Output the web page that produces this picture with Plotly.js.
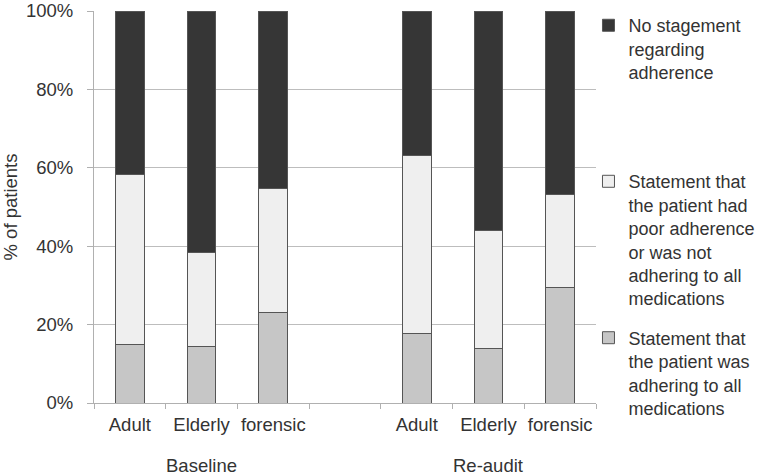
<!DOCTYPE html>
<html>
<head>
<meta charset="utf-8">
<script src="https://cdn.plot.ly/plotly-3.0.1.min.js"></script>
<style>html,body{margin:0;padding:0;background:#fff}#chart{width:760px;height:476px}</style>
</head>
<body>
<div id="chart"></div>
<script>
// Category slots (an empty slot separates the two audit groups)
const slotIds = ["b_adult", "b_elderly", "b_forensic", "gap", "r_adult", "r_elderly", "r_forensic"];
const slotLabels = ["Adult", "Elderly", "forensic", "", "Adult", "Elderly", "forensic"];
const groupLabels = ["Baseline", "Re-audit"];
const groupCenters = [1, 5];

// Percent of patients per slot (null for the empty slot)
const adhering = [15.0, 14.4, 23.2, null, 17.7, 14.0, 29.4];
const poorAdherence = [43.4, 24.1, 31.4, null, 45.4, 30.1, 23.7];
const noStatement = [41.6, 61.5, 45.4, null, 36.9, 55.9, 46.9];

const seriesNames = [
  "Statement that<br>the patient was<br>adhering to all<br>medications",
  "Statement that<br>the patient had<br>poor adherence<br>or was not<br>adhering to all<br>medications",
  "No stagement<br>regarding<br>adherence"
];
const seriesColors = ["#c6c6c6", "#efefef", "#363636"];

const font = {family: "'Liberation Sans', Arial, sans-serif", size: 18.5, color: "#333333"};
const legendFont = {family: "'Liberation Sans', Arial, sans-serif", size: 18, color: "#333333"};
const lineCol = "#555555";

const series = [adhering, poorAdherence, noStatement];
const legendIds = ["legend3", "legend2", "legend"];
const traces = series.map((vals, i) => ({
  type: "bar",
  name: seriesNames[i],
  x: slotIds,
  y: vals.map(v => v === null ? null : v / 100),
  marker: {color: seriesColors[i], line: {color: lineCol, width: 1}},
  legend: legendIds[i],
  hoverinfo: "skip"
}));

const legendBase = {
  x: 0.985, xanchor: "left", yanchor: "top",
  font: legendFont, bgcolor: "rgba(0,0,0,0)", valign: "top"
};

const layout = {
  width: 760, height: 476,
  margin: {l: 94, r: 164, t: 11, b: 73, autoexpand: false},
  paper_bgcolor: "#ffffff", plot_bgcolor: "#ffffff",
  font: font,
  barmode: "stack",
  bargap: 0.6,
  showlegend: true,
  legend: Object.assign({}, legendBase, {y: 1.01}),
  legend2: Object.assign({}, legendBase, {y: 0.612}),
  legend3: Object.assign({}, legendBase, {y: 0.213}),
  xaxis: {
    type: "category",
    categoryorder: "array", categoryarray: slotIds,
    tickvals: slotIds, ticktext: slotLabels,
    range: [-0.5, 6.5],
    tickson: "boundaries",
    ticks: "outside", ticklen: 5, tickcolor: "#b0b0b0",
    tickangle: 0,
    ticklabelstandoff: 5,
    automargin: false,
    showline: true, linecolor: "#b0b0b0", linewidth: 1,
    showgrid: false, zeroline: false,
    tickfont: font, fixedrange: true
  },
  yaxis: {
    range: [0, 1], dtick: 0.2, tick0: 0, tickformat: ".0%",
    ticks: "outside", ticklen: 6, tickcolor: "#b0b0b0",
    ticklabelstandoff: 10,
    automargin: false,
    showline: true, linecolor: "#b0b0b0", linewidth: 1,
    showgrid: true, gridcolor: "#bdbdbd", gridwidth: 1,
    zeroline: false,
    tickfont: font,
    title: {text: "% of patients", font: font, standoff: 8},
    fixedrange: true
  },
  annotations: groupLabels.map((g, i) => ({
    text: g, x: groupCenters[i], xref: "x",
    y: -0.16, yref: "paper", yanchor: "middle",
    showarrow: false, font: font
  }))
};

Plotly.newPlot("chart", traces, layout, {displayModeBar: false, staticPlot: true});
</script>
</body>
</html>
